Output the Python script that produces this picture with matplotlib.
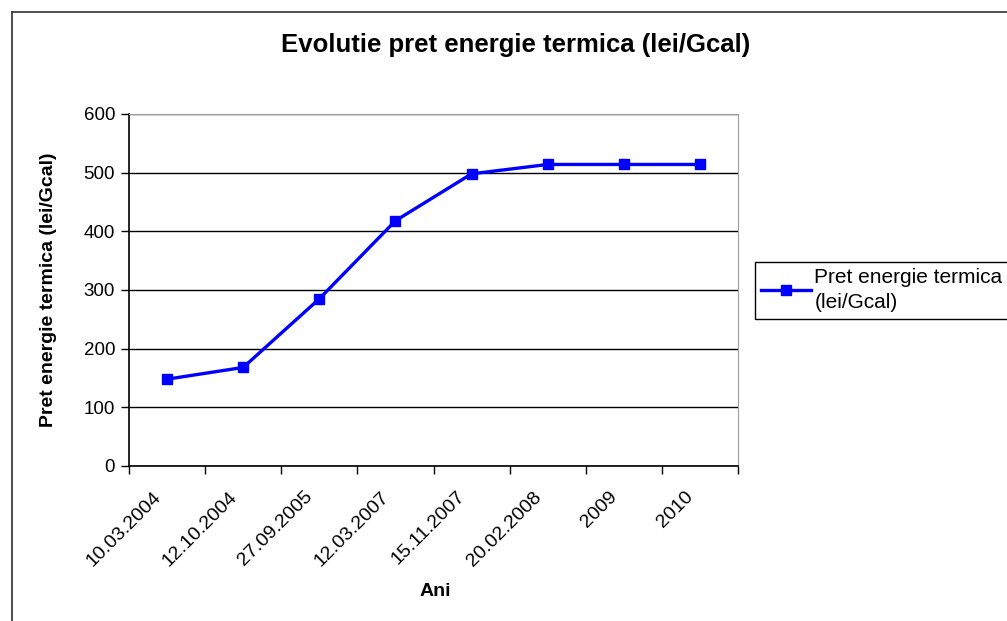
import matplotlib.pyplot as plt
from matplotlib.lines import Line2D
from matplotlib.transforms import ScaledTranslation

plt.rcParams['font.family'] = ['Liberation Sans', 'DejaVu Sans']

# pret energie termica pe ani
date = ["10.03.2004", "12.10.2004", "27.09.2005", "12.03.2007",
        "15.11.2007", "20.02.2008", "2009", "2010"]
pret = [148, 168, 285, 418, 498, 514, 514, 514]
y_ticks = [0, 100, 200, 300, 400, 500, 600]

fig = plt.figure(figsize=(10.07, 6.21), dpi=100)
ax = fig.add_axes([129/1007, 1-466/621, (738-129)/1007, (466-114)/621])

x = list(range(len(date)))
ax.plot(x, pret, color='#0000ff', lw=2.4, marker='s', markersize=7,
        label='Pret energie termica\n(lei/Gcal)', zorder=3)

ax.set_xlim(-0.5, len(date) - 0.5)
ax.set_ylim(0, 600)
ax.set_yticks(y_ticks)
ax.yaxis.grid(True, color='black', lw=1)
ax.set_axisbelow(True)

# ticks intre categorii, etichete pe categorii
ax.set_xticks([i - 0.5 for i in range(len(date) + 1)])
ax.set_xticklabels([])
ax.set_xticks(x, minor=True)
ax.set_xticklabels(date, minor=True, rotation=45, ha='right', va='top',
                   rotation_mode='anchor', fontsize=14)
ax.tick_params(axis='x', which='minor', length=0, pad=16)
ax.tick_params(axis='x', which='major', length=6, width=1, direction='out')
ax.tick_params(axis='y', length=6, width=1, direction='out', labelsize=13.5, pad=4)
shift = ScaledTranslation(-0.15, 0, fig.dpi_scale_trans)
for lbl in ax.get_xticklabels(minor=True):
    lbl.set_transform(lbl.get_transform() + shift)

for s in ['top', 'right']:
    ax.spines[s].set_color('#a0a0a0')
for s in ['left', 'bottom']:
    ax.spines[s].set_color('black')
    ax.spines[s].set_linewidth(1.2)

ax.set_ylabel('Pret energie termica (lei/Gcal)', fontsize=14, fontweight='bold')
ax.yaxis.set_label_coords(57/1007, 1-290/621, transform=fig.transFigure)
fig.text(435/1007, 1-592/621, 'Ani', ha='center', va='center',
         fontsize=14, fontweight='bold')
fig.text(516/1007, 1-45/621, 'Evolutie pret energie termica (lei/Gcal)',
         ha='center', va='center', fontsize=18.5, fontweight='bold')

leg = ax.legend(loc='upper left', bbox_to_anchor=(755/1007, 1-262/621),
                bbox_transform=fig.transFigure, fontsize=15, handlelength=2.4,
                fancybox=False, framealpha=1, edgecolor='black',
                borderpad=0.3, handletextpad=0.15, borderaxespad=0)
leg.get_frame().set_linewidth(1)
leg.get_texts()[0].set_linespacing(1.4)

# chenarul graficului
fig.add_artist(Line2D([12/1007, 12/1007], [0, 1-12/621], color='#303030', lw=1.2))
fig.add_artist(Line2D([12/1007, 1], [1-12/621, 1-12/621], color='#303030', lw=1.2))

fig.savefig('out.png', dpi=100)
